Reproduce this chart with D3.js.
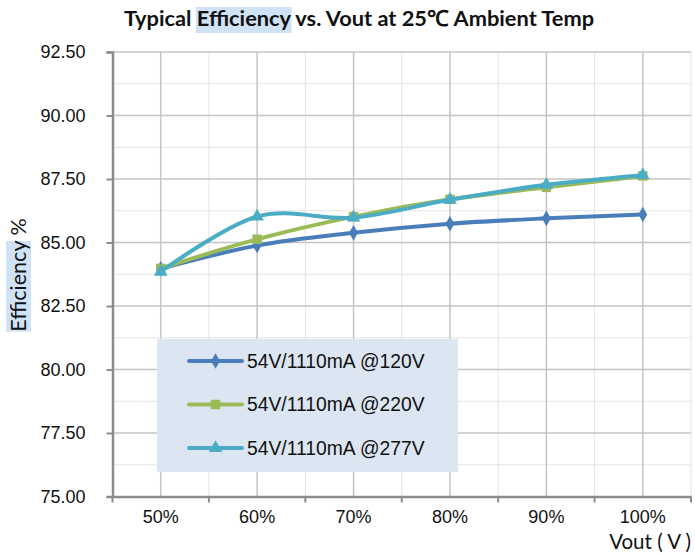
<!DOCTYPE html>
<html>
<head>
<meta charset="utf-8">
<script src="https://cdn.jsdelivr.net/npm/d3@7"></script>
<style>
  body { margin: 0; background: #fff; }
  svg { display: block; }
</style>
</head>
<body>
<div id="chart"></div>
<script>
"use strict";
// values
var categories = ["50%", "60%", "70%", "80%", "90%", "100%"];
var eff120 = [83.97, 84.88, 85.38, 85.74, 85.95, 86.1];
var eff220 = [83.98, 85.13, 86.02, 86.7, 87.17, 87.62];
var eff277 = [83.85, 86.02, 85.98, 86.68, 87.27, 87.65];
var seriesNames = ["54V/1110mA @120V", "54V/1110mA @220V", "54V/1110mA @277V"];
var yTicks = [75, 77.5, 80, 82.5, 85, 87.5, 90, 92.5];

var series = [
  { name: seriesNames[0], values: eff120, color: "#4a7ebb", marker: "diamond" },
  { name: seriesNames[1], values: eff220, color: "#9bbb59", marker: "square" },
  { name: seriesNames[2], values: eff277, color: "#4bacc6", marker: "triangle" }
];

var W = 695, H = 554;
var pLeft = 112.5, pRight = 691, pTop = 52, pBottom = 496.5;

var svg = d3.select("#chart").append("svg")
  .attr("width", W)
  .attr("height", H)
  .style("font-family", "Lato, 'Open Sans', sans-serif");

// highlight boxes go here, behind everything
var bg = svg.append("g");

var x = d3.scaleBand().domain(categories).range([pLeft, pRight]);
var y = d3.scaleLinear().domain([75, 92.5]).range([pBottom, pTop]);

// minor grid
var minor = d3.range(76.25, 92.5, 2.5);
svg.append("g").selectAll("line").data(minor).enter().append("line")
  .attr("x1", pLeft).attr("x2", pRight)
  .attr("y1", function (d) { return y(d); }).attr("y2", function (d) { return y(d); })
  .attr("stroke", "#e4e4e4").attr("stroke-width", 1);
svg.append("g").selectAll("line").data(categories).enter().append("line")
  .attr("x1", function (d) { return x(d) + x.bandwidth(); })
  .attr("x2", function (d) { return x(d) + x.bandwidth(); })
  .attr("y1", pTop).attr("y2", pBottom)
  .attr("stroke", "#e4e4e4").attr("stroke-width", 1);

// major grid
svg.append("g").selectAll("line").data(yTicks.slice(1)).enter().append("line")
  .attr("x1", pLeft).attr("x2", pRight)
  .attr("y1", function (d) { return y(d); }).attr("y2", function (d) { return y(d); })
  .attr("stroke", "#c4c4c4").attr("stroke-width", 1.5);
svg.append("g").selectAll("line").data(categories).enter().append("line")
  .attr("x1", function (d) { return x(d) + x.bandwidth() / 2; })
  .attr("x2", function (d) { return x(d) + x.bandwidth() / 2; })
  .attr("y1", pTop).attr("y2", pBottom)
  .attr("stroke", "#c4c4c4").attr("stroke-width", 1.5);

// axes
var yAxis = svg.append("g")
  .attr("transform", "translate(" + pLeft + ",0)")
  .call(d3.axisLeft(y).tickValues(yTicks).tickFormat(d3.format(".2f")).tickSize(6).tickPadding(21));
var xAxis = svg.append("g")
  .attr("transform", "translate(0," + pBottom + ")")
  .call(d3.axisBottom(x).tickSize(0).tickPadding(14));
[yAxis, xAxis].forEach(function (a) {
  a.select(".domain").attr("stroke", "#8c8c8c").attr("stroke-width", 2.5);
  a.selectAll(".tick line").attr("stroke", "#8c8c8c").attr("stroke-width", 2);
  a.selectAll("text").attr("fill", "#111").style("font-size", "18px");
});
// x tick marks on band boundaries
svg.append("g").selectAll("line").data(categories.concat(["end"])).enter().append("line")
  .attr("x1", function (d, i) { return pLeft + i * x.bandwidth(); })
  .attr("x2", function (d, i) { return pLeft + i * x.bandwidth(); })
  .attr("y1", pBottom).attr("y2", pBottom + 6)
  .attr("stroke", "#8c8c8c").attr("stroke-width", 2);

// lines
var line = d3.line()
  .x(function (d, i) { return x(categories[i]) + x.bandwidth() / 2; })
  .y(function (d) { return y(d); })
  .curve(d3.curveCatmullRom.alpha(0));

var symbolOf = {
  diamond: d3.symbol().type(d3.symbolDiamond).size(70),
  square: d3.symbol().type(d3.symbolSquare).size(90),
  triangle: d3.symbol().type(d3.symbolTriangle).size(80)
};

series.forEach(function (s) {
  var g = svg.append("g");
  g.append("path").datum(s.values)
    .attr("d", line)
    .attr("fill", "none")
    .attr("stroke", s.color)
    .attr("stroke-width", 4)
    .attr("stroke-linejoin", "round");
  g.selectAll("path.m").data(s.values).enter().append("path")
    .attr("class", "m")
    .attr("d", symbolOf[s.marker])
    .attr("transform", function (d, i) {
      return "translate(" + (x(categories[i]) + x.bandwidth() / 2) + "," + y(d) + ")";
    })
    .attr("fill", s.color);
});

// legend
var lg = svg.append("g");
lg.append("rect")
  .attr("x", 157).attr("y", 339).attr("width", 301).attr("height", 133)
  .attr("fill", "#dce6f2");
series.forEach(function (s, i) {
  var ly = 361 + i * 43.5;
  lg.append("line")
    .attr("x1", 189).attr("x2", 242).attr("y1", ly).attr("y2", ly)
    .attr("stroke", s.color).attr("stroke-width", 4).attr("stroke-linecap", "round");
  lg.append("path")
    .attr("d", symbolOf[s.marker])
    .attr("transform", "translate(215.5," + ly + ")")
    .attr("fill", s.color);
  lg.append("text")
    .attr("x", 247).attr("y", ly)
    .attr("dy", "0.35em")
    .style("font-family", "'Liberation Sans', Arial, sans-serif")
    .style("font-size", "19.3px")
    .attr("fill", "#111")
    .text(s.name);
});

// title with highlighted word
var title = svg.append("text")
  .attr("x", 359).attr("y", 26)
  .attr("text-anchor", "middle")
  .style("font-size", "21.8px")
  .style("font-weight", "bold")
  .attr("fill", "#111");
title.append("tspan").text("Typical ");
title.append("tspan").text("Efficiency");
title.append("tspan").text(" vs. Vout at 25\u2103 Ambient Temp");
var tn = title.node();
var hs = tn.getStartPositionOfChar(8).x;
var he = tn.getEndPositionOfChar(17).x;
bg.append("rect")
  .attr("x", hs - 1).attr("y", 7).attr("width", he - hs + 2).attr("height", 26)
  .attr("fill", "#cfe2f6");

// y axis title
var yt = svg.append("text")
  .attr("transform", "translate(26,275) rotate(-90)")
  .attr("text-anchor", "middle")
  .style("font-size", "21.5px")
  .attr("fill", "#111");
yt.append("tspan").text("Efficiency");
yt.append("tspan").text(" %");
var ytn = yt.node();
var ys = ytn.getStartPositionOfChar(0).x;
var ye = ytn.getEndPositionOfChar(9).x;
bg.append("rect")
  .attr("transform", "translate(26,275) rotate(-90)")
  .attr("x", ys).attr("y", -20).attr("width", ye - ys).attr("height", 25)
  .attr("fill", "#cfe2f6");

// x axis title
svg.append("text")
  .attr("x", 691).attr("y", 549)
  .attr("text-anchor", "end")
  .style("font-size", "20.5px")
  .attr("fill", "#111")
  .text("Vout ( V )");
</script>
</body>
</html>
